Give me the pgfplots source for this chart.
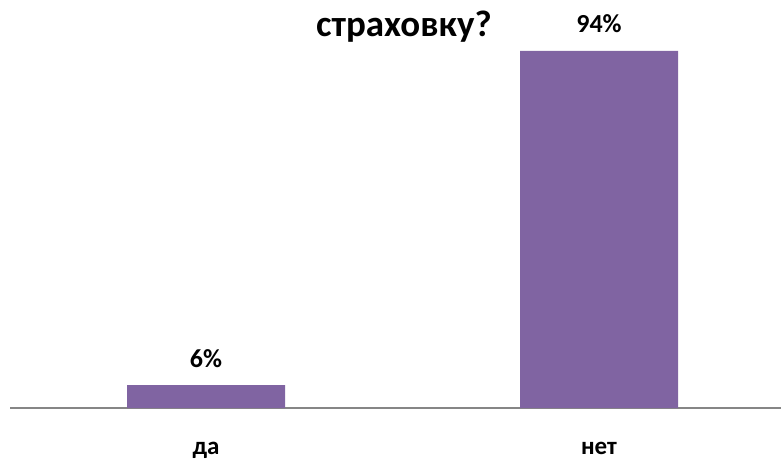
\documentclass[border=0pt]{standalone}
\usepackage{fontspec}
\setmainfont{Carlito}
\usepackage{pgfplots}
\pgfplotsset{compat=1.18}
\definecolor{barpurple}{HTML}{8064A2}
\definecolor{axisgray}{HTML}{868686}
\begin{document}
\begin{tikzpicture}
\begin{axis}[
    at={(10pt,53pt)}, anchor=south west,
    scale only axis,
    width=771pt, height=408pt,
    xmin=-0.4987, xmax=1.463,
    ymin=0, ymax=107.4,
    axis x line*=bottom,
    axis y line=none,
    x axis line style={draw=axisgray, line width=1.5pt, -},
    xtick={0,1},
    xticklabels={да,нет},
    major tick length=0pt,
    xticklabel style={anchor=base, yshift=-46pt, font=\fontsize{25}{30}\selectfont\bfseries},
    ytick=\empty,
    /pgf/number format/assume math mode=true,
    nodes near coords={\pgfmathprintnumber{\pgfplotspointmeta}\%},
    nodes near coords style={anchor=base, yshift=18pt, font=\fontsize{26}{30}\selectfont\bfseries},
    clip=false,
]
\addplot[ybar, bar width=158pt, fill=barpurple, draw=none] coordinates {(0,6) (1,94)};
\end{axis}
\node[anchor=base west, font=\fontsize{37}{42}\selectfont\bfseries, inner sep=0pt] at (316pt,424pt) {страховку?};
\pgfresetboundingbox
\path (0,0) rectangle (781pt,461pt);
\end{tikzpicture}
\end{document}
